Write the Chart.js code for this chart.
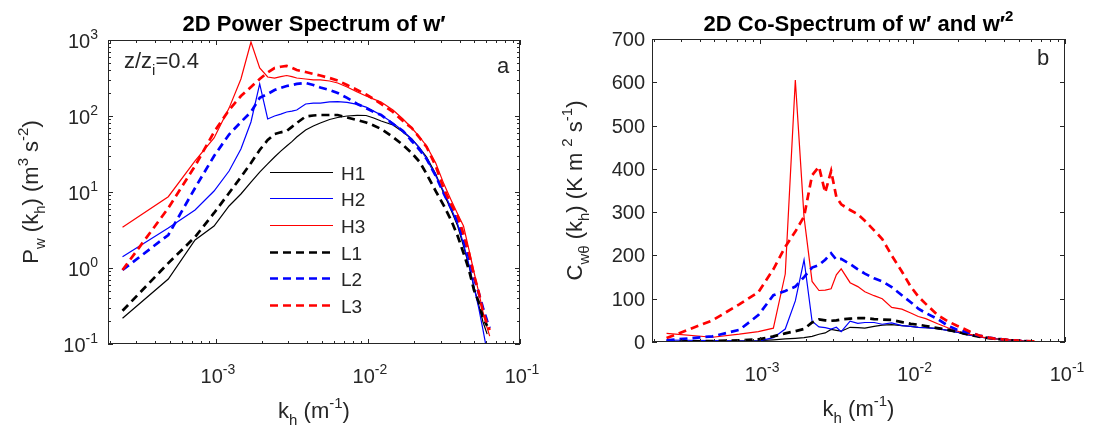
<!DOCTYPE html>
<html>
<head>
<meta charset="utf-8">
<title>2D spectra</title>
<script src="https://cdn.jsdelivr.net/npm/chart.js@4.4.1/dist/chart.umd.min.js"></script>
<style>
  body { margin: 0; background: #ffffff; }
  #wrap { position: relative; width: 1093px; height: 437px; }
  #wrap canvas { position: absolute; top: 0; }
</style>
</head>
<body>
<div id="wrap">
  <canvas id="powerChart" width="546" height="437" style="left:0"></canvas>
  <canvas id="coChart" width="547" height="437" style="left:546px"></canvas>
</div>
<script>
// horizontal wavenumber k_h (m^-1), shared by all curves
const kh = [0.000243, 0.000486, 0.000729, 0.000972, 0.00122, 0.00146, 0.0017, 0.00194, 0.00219, 0.00243,
            0.00267, 0.00292, 0.00316, 0.0034, 0.00389, 0.00437, 0.00486, 0.00559, 0.00632, 0.00729,
            0.0085, 0.00972, 0.0109, 0.0122, 0.0146, 0.017, 0.0194, 0.0219, 0.0243, 0.0279,
            0.0316, 0.0352, 0.0389, 0.0425, 0.0462, 0.0498, 0.0535, 0.0571, 0.0608, 0.0632];

// panel a: power spectrum of w' (m^3 s^-2)
const powH1 = [0.218, 0.716, 2.34, 3.57, 6.55, 9.41, 13.5, 18.3, 23.4, 28.9,
               34.5, 40.3, 46, 52.9, 65.4, 73.9, 80.9, 89.9, 95.5, 100,
               102, 101.6, 94.1, 85.9, 76.2, 61.6, 49.8, 37.9, 28.9, 17.3,
               9.41, 5.8, 3.57, 1.95, 1.06, 0.562, 0.326, 0.195, 0.135, null];
const powH2 = [1.41, 3.36, 5.8, 10.3, 18.9, 36.8, 83.4, 264, 91.3, 100,
               106, 113, 116, 120, 144, 148, 148, 153, 155, 151,
               142, 131, 116, 103, 80.9, 63.5, 49.8, 37.9, 27.2, 16.3,
               10, 6.15, 3.79, 2.07, 1.09, 0.562, 0.298, 0.153, 0.0785, null];
const powH3 = [3.43, 8.67, 25.7, 51.4, 127, 307, 942, 428, 326, 316,
               330, 341, 330, 316, 307, 298, 298, 289, 272, 241,
               207, 183, 167, 153, 120, 91.3, 69.5, 52.9, 40.3, 24.1,
               12.7, 7.85, 5.14, 3.57, 1.73, 0.886, 0.483, 0.264, 0.163, 0.127];
const powL1 = [0.274, 1.16, 2.56, 5.3, 9.7, 15.7, 24.1, 35.7, 48.3, 57.9,
               61, 63.5, 72, 80.9, 98.5, 101.6, 103, 103, 103, 95.5,
               88.5, 82.1, 75, 67.5, 52.9, 41.5, 32.6, 24.8, 17.3, 10.3,
               6.55, 4.28, 2.64, 1.57, 0.941, 0.514, 0.357, 0.22, 0.173, null];
const powL2 = [0.941, 2.72, 11.3, 29.8, 57.1, 83.4, 113, 173, 195, 220,
               234, 248, 256, 264, 272, 256, 237, 220, 201, 173,
               144, 127, 113, 103, 78.5, 63.5, 46.9, 35.7, 27.2, 16.3,
               9.41, 6.15, 4.03, 2.34, 1.36, 0.738, 0.469, 0.298, 0.201, 0.163];
const powL3 = [0.941, 6.15, 22, 61.6, 120, 183, 241, 307, 373, 428,
               445, 455, 430, 403, 379, 357, 341, 316, 293, 256,
               220, 192, 167, 144, 113, 85.9, 69.5, 51.4, 39.1, 22,
               10.9, 6.95, 4.83, 2.8, 1.57, 0.809, 0.483, 0.264, 0.183, 0.153];

// panel b: co-spectrum (K m^2 s^-1)
const coH1 = [1.5, 2, 2.5, 3, 5, 7, 8.5, 10, 13, 18,
              21, 29, 27, 25, 34, 33, 32, 36, 39, 40,
              38, 36, 34, 33, 31, 27, 23, 18, 15, 11,
              9, 7, 6, 5, 4, 3, 2.3, 1.8, 1.3, null];
const coH2 = [4.6, 3, 2, 2, 10, 30, 95, 190, 48, 35,
              33, 30, 34, 24, 48, 43, 45, 45, 41, 44,
              38, 36, 34, 33, 31, 27, 23, 18, 15, 11,
              9, 7.5, 6.5, 5, 4, 3, 2.3, 1.8, 1.4, null];
const coH3 = [20, 11, 18, 24, 32, 157, 605, 288, 140, 119,
              120, 123, 155, 169, 137, 128, 116, 107, 100, 80,
              76, 67, 59, 54, 42, 33, 26, 20, 17, 12,
              9, 7.5, 6.5, 5.3, 4.2, 3, 2.3, 1.8, 1.4, 1.2];
const coL1 = [1, 2, 4, 6, 13, 20, 25, 30, 45, 52,
              50, 49, 50, 52, 54, 55, 55, 53, 52, 51,
              46, 42, 40, 37, 32, 28, 24, 19, 16, 12,
              9, 7, 6, 4.5, 3.5, 2.8, 2.2, 1.7, 1.3, null];
const coL2 = [4, 13, 28, 62, 108, 118, 128, 150, 172, 178,
              190, 205, 190, 192, 180, 168, 158, 147, 140, 127,
              108, 92, 77, 67, 53, 38, 29, 24, 20, 14,
              10, 8, 6, 4.5, 3.5, 2.8, 2.2, 1.7, 1.3, null];
const coL3 = [9, 50, 87, 115, 168, 220, 255, 290, 385, 405,
              345, 395, 335, 318, 305, 295, 280, 258, 238, 200,
              163, 128, 105, 88, 62, 48, 38, 30, 22, 14,
              10, 7, 6, 5, 4, 3, 2.4, 1.9, 1.5, 1.3];

const seriesNames = ['H1', 'H2', 'H3', 'L1', 'L2', 'L3'];

// tick labels
const xTickValues = [1e-3, 1e-2, 1e-1];
const xTickExponents = ['-3', '-2', '-1'];
const powTickValues = [1e-1, 1, 10, 100, 1000];
const powTickExponents = ['-1', '0', '1', '2', '3'];
const coTickValues = [0, 100, 200, 300, 400, 500, 600, 700];

const FONT = '"Liberation Sans", Arial, Helvetica, sans-serif';
const AXIS_COLOR = '#262626';
const TICK_SIZE = 20;
const LABEL_SIZE = 22;
const TITLE_SIZE = 22;
const NOTE_SIZE = 22;
const lineColors = ['#000000', '#0000ff', '#ff0000', '#000000', '#0000ff', '#ff0000'];

// draw text made of pieces, some of them sub- or superscript
function drawRich(ctx, parts, x, y, size, align, bold) {
    const weight = bold ? 'bold ' : '';
    const small = Math.round(size * 0.7);
    let total = 0;
    const widths = parts.map(function(p) {
        ctx.font = weight + (p[1] ? small : size) + 'px ' + FONT;
        const w = ctx.measureText(p[0]).width;
        total += w;
        return w;
    });
    let cx = x;
    if (align === 'center') cx = x - total / 2;
    if (align === 'right') cx = x - total;
    ctx.textAlign = 'left';
    ctx.textBaseline = 'alphabetic';
    parts.forEach(function(p, i) {
        ctx.font = weight + (p[1] ? small : size) + 'px ' + FONT;
        let dy = 0;
        if (p[1] === 'sup') dy = -size * 0.45;
        if (p[1] === 'sub') dy = size * 0.32;
        ctx.fillText(p[0], cx, y + dy);
        cx += widths[i];
    });
}

// MATLAB-like box, inward ticks, tick labels, titles, legend
const panelDecor = {
    id: 'panelDecor',
    afterDatasetsDraw(chart, args, opts) {
        const ctx = chart.ctx;
        const a = chart.chartArea;
        const xs = chart.scales.x;
        const ys = chart.scales.y;
        ctx.save();
        ctx.strokeStyle = AXIS_COLOR;
        ctx.lineWidth = 1;
        ctx.setLineDash([]);
        ctx.strokeRect(a.left + 0.5, a.top + 0.5, a.right - a.left - 1, a.bottom - a.top - 1);

        ctx.beginPath();
        // x ticks, log axis, bottom and top
        for (let e = -4; e <= -1; e++) {
            for (let m = 1; m <= 9; m++) {
                const v = m * Math.pow(10, e);
                if (v < xs.min || v > xs.max * 1.0001) continue;
                const px = Math.round(xs.getPixelForValue(v)) + 0.5;
                const len = m === 1 ? 5 : 3;
                ctx.moveTo(px, a.bottom); ctx.lineTo(px, a.bottom - len);
                ctx.moveTo(px, a.top); ctx.lineTo(px, a.top + len);
            }
        }
        // y ticks, left and right
        if (opts.logY) {
            for (let e = -1; e <= 3; e++) {
                for (let m = 1; m <= 9; m++) {
                    const v = m * Math.pow(10, e);
                    if (v < ys.min * 0.9999 || v > ys.max * 1.0001) continue;
                    const py = Math.round(ys.getPixelForValue(v)) + 0.5;
                    const len = m === 1 ? 5 : 3;
                    ctx.moveTo(a.left, py); ctx.lineTo(a.left + len, py);
                    ctx.moveTo(a.right, py); ctx.lineTo(a.right - len, py);
                }
            }
        } else {
            coTickValues.forEach(function(v) {
                const py = Math.round(ys.getPixelForValue(v)) + 0.5;
                ctx.moveTo(a.left, py); ctx.lineTo(a.left + 5, py);
                ctx.moveTo(a.right, py); ctx.lineTo(a.right - 5, py);
            });
        }
        ctx.stroke();
        ctx.restore();
    },
    afterDraw(chart, args, opts) {
        const ctx = chart.ctx;
        const a = chart.chartArea;
        const xs = chart.scales.x;
        const ys = chart.scales.y;
        const midX = (a.left + a.right) / 2;
        ctx.save();
        ctx.fillStyle = AXIS_COLOR;

        // x tick labels
        xTickValues.forEach(function(v, i) {
            const px = xs.getPixelForValue(v);
            drawRich(ctx, [['10'], [xTickExponents[i], 'sup']], px + 2, a.bottom + 39, TICK_SIZE, 'center');
        });
        // y tick labels
        if (opts.logY) {
            powTickValues.forEach(function(v, i) {
                const py = ys.getPixelForValue(v);
                drawRich(ctx, [['10'], [powTickExponents[i], 'sup']], a.left - 10, py + 7.5, TICK_SIZE, 'right');
            });
        } else {
            coTickValues.forEach(function(v) {
                const py = ys.getPixelForValue(v);
                drawRich(ctx, [[String(v)]], a.left - 7, py + 7, TICK_SIZE, 'right');
            });
        }

        // axis titles
        drawRich(ctx, [['k'], ['h', 'sub'], [' (m'], ['-1', 'sup'], [')']], midX, a.bottom + 74, LABEL_SIZE, 'center');
        ctx.save();
        ctx.translate(a.left - 70, (a.top + a.bottom) / 2);
        ctx.rotate(-Math.PI / 2);
        drawRich(ctx, opts.yTitle, 0, 0, LABEL_SIZE, 'center');
        ctx.restore();

        // plot title
        ctx.fillStyle = '#000000';
        drawRich(ctx, opts.title, midX, 31, TITLE_SIZE, 'center', true);

        // corner notes
        ctx.fillStyle = AXIS_COLOR;
        opts.notes.forEach(function(n) {
            drawRich(ctx, n.parts, n.x, n.y, NOTE_SIZE, n.align);
        });

        // legend inside panel a
        if (opts.legend) {
            const lg = opts.legend;
            chart.data.datasets.forEach(function(ds, i) {
                const y = Math.round(lg.y0 + i * lg.dy) + 0.5;
                ctx.strokeStyle = ds.borderColor;
                ctx.lineWidth = ds.borderWidth;
                ctx.setLineDash(ds.borderDash);
                ctx.beginPath();
                ctx.moveTo(lg.x1, y);
                ctx.lineTo(lg.x2, y);
                ctx.stroke();
                ctx.setLineDash([]);
                ctx.fillStyle = AXIS_COLOR;
                drawRich(ctx, [[ds.label]], lg.textX, y + 7, 19, 'left');
            });
        }
        ctx.restore();
    }
};

function makeDatasets(seriesList) {
    return seriesList.map(function(vals, i) {
        return {
            label: seriesNames[i],
            data: kh.map(function(k, j) { return { x: k, y: vals[j] }; }),
            borderColor: lineColors[i],
            borderWidth: i < 3 ? 1.2 : 2.7,
            borderDash: i < 3 ? [] : [8, 5],
            order: 5 - i,
            fill: false,
            pointRadius: 0,
            tension: 0,
            spanGaps: false
        };
    });
}

function baseOptions(padding, yScale, decor) {
    return {
        responsive: false,
        animation: false,
        devicePixelRatio: 1,
        events: [],
        layout: { padding: padding },
        plugins: {
            legend: { display: false },
            tooltip: { enabled: false },
            panelDecor: decor
        },
        scales: {
            x: { type: 'logarithmic', min: 1.95e-4, max: 0.1, display: false },
            y: yScale
        }
    };
}

// panel a
new Chart(document.getElementById('powerChart'), {
    type: 'line',
    data: { datasets: makeDatasets([powH1, powH2, powH3, powL1, powL2, powL3]) },
    options: baseOptions(
        { left: 108, right: 26, top: 40, bottom: 93 },
        { type: 'logarithmic', min: 0.1, max: 1000, display: false },
        {
            logY: true,
            title: [['2D Power Spectrum of w\u2032']],
            yTitle: [['P'], ['w', 'sub'], [' (k'], ['h', 'sub'], [') (m'], ['3', 'sup'], [' s'], ['-2', 'sup'], [')']],
            notes: [
                { parts: [['z/z'], ['i', 'sub'], ['=0.4']], x: 124, y: 68, align: 'left' },
                { parts: [['a']], x: 503, y: 73, align: 'center' }
            ],
            legend: { x1: 270, x2: 333, textX: 341, y0: 171.5, dy: 26.7 }
        }
    ),
    plugins: [panelDecor]
});

// panel b
new Chart(document.getElementById('coChart'), {
    type: 'line',
    data: { datasets: makeDatasets([coH1, coH2, coH3, coL1, coL2, coL3]) },
    options: baseOptions(
        { left: 106, right: 28, top: 39, bottom: 95 },
        { type: 'linear', min: 0, max: 700, display: false },
        {
            logY: false,
            title: [['2D Co-Spectrum of w\u2032 and w\u2032'], ['2', 'sup']],
            yTitle: [['C'], ['w\u03b8', 'sub'], [' (k'], ['h', 'sub'], [') (K m '], ['2', 'sup'], [' s'], ['-1', 'sup'], [')']],
            notes: [
                { parts: [['b']], x: 497, y: 65, align: 'center' }
            ],
            legend: null
        }
    ),
    plugins: [panelDecor]
});
</script>
</body>
</html>
